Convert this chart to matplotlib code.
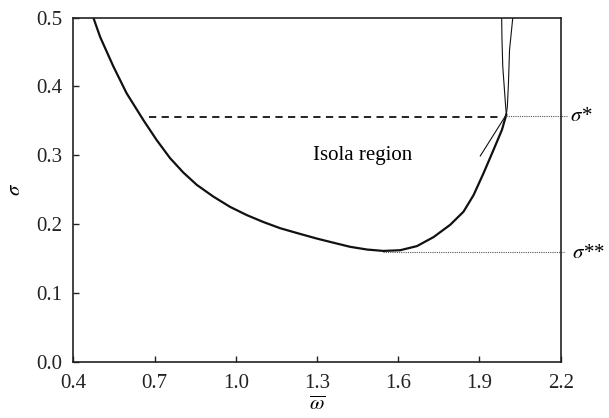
import matplotlib
matplotlib.use("Agg")
import matplotlib.pyplot as plt
import numpy as np

plt.rcParams['font.family'] = ['Liberation Serif', 'DejaVu Serif']
plt.rcParams['mathtext.fontset'] = 'stix'

# main boundary curve (omega_bar, sigma)
omega = [0.474, 0.499, 0.548, 0.597, 0.659, 0.708, 0.757, 0.806, 0.856, 0.917,
         0.979, 1.041, 1.102, 1.164, 1.235, 1.299, 1.360, 1.422, 1.485, 1.545,
         1.607, 1.669, 1.730, 1.792, 1.841, 1.878, 1.915, 1.952, 1.983, 1.999]
sigma = [0.500, 0.472, 0.429, 0.390, 0.351, 0.322, 0.296, 0.275, 0.257, 0.240,
         0.225, 0.213, 0.203, 0.194, 0.186, 0.179, 0.173, 0.167, 0.163, 0.161,
         0.162, 0.168, 0.181, 0.199, 0.218, 0.242, 0.274, 0.308, 0.337, 0.359]

# two thin branches above sigma*
left_w = [1.999, 1.995, 1.986, 1.983, 1.982]
left_s = [0.359, 0.380, 0.429, 0.470, 0.500]
right_w = [1.999, 2.003, 2.007, 2.011, 2.023]
right_s = [0.359, 0.371, 0.405, 0.453, 0.500]

# tangent segment
tan_w = [1.903, 1.999]
tan_s = [0.299, 0.359]

sigma_star = 0.355
sigma_2star = 0.160
dash_start = 0.681
min_w = 1.545

fig = plt.figure(figsize=(6.09, 4.18), dpi=100)
ax = fig.add_axes([0.1204, 0.1347, 0.8003, 0.823])

ax.plot(omega, sigma, color='#111111', lw=1.6, solid_joinstyle='round')
ax.plot(left_w, left_s, color='#111111', lw=0.8)
ax.plot(right_w, right_s, color='#111111', lw=0.8)
ax.plot(tan_w, tan_s, color='#111111', lw=0.8)

ax.plot([dash_start, 1.982], [sigma_star, sigma_star], color='#111111',
        lw=1.3, ls=(0, (4, 3)))
ax.plot([1.999, 2.222], [sigma_star + 0.002, sigma_star + 0.002], color='#555555',
        lw=0.8, ls=(0, (1, 1)), clip_on=False)
ax.plot([min_w, 2.215], [sigma_2star, sigma_2star], color='#555555',
        lw=0.8, ls=(0, (1, 1)), clip_on=False)

ax.text(2.235, sigma_star + 0.002, r'$\sigma$*', fontsize=15, va='center',
        ha='left', style='italic')
ax.text(2.24, sigma_2star - 0.003, r'$\sigma$**', fontsize=15, va='center',
        ha='left', style='italic')
ax.text(1.47, 0.300, 'Isola region', fontsize=15, ha='center', va='center')

ax.set_xlim(0.4, 2.2)
ax.set_ylim(0.0, 0.5)
ax.set_xticks(np.arange(0.4, 2.21, 0.3))
ax.set_yticks(np.arange(0.0, 0.51, 0.1))
ax.set_xticklabels([f"{v:.1f}" for v in np.arange(0.4, 2.21, 0.3)])
ax.set_yticklabels([f"{v:.1f}" for v in np.arange(0.0, 0.51, 0.1)])
ax.tick_params(direction='in', length=4, width=1, labelsize=15,
               top=False, right=False, pad=8, colors='#222222')
ax.tick_params(axis='x', pad=9)
for s in ax.spines.values():
    s.set_linewidth(1.2)
    s.set_color('#222222')

ax.set_xlabel(r'$\overline{\omega}$', fontsize=15, labelpad=2)
ax.set_ylabel(r'$\sigma$', fontsize=15, labelpad=8)

fig.savefig('out.png', dpi=100)
